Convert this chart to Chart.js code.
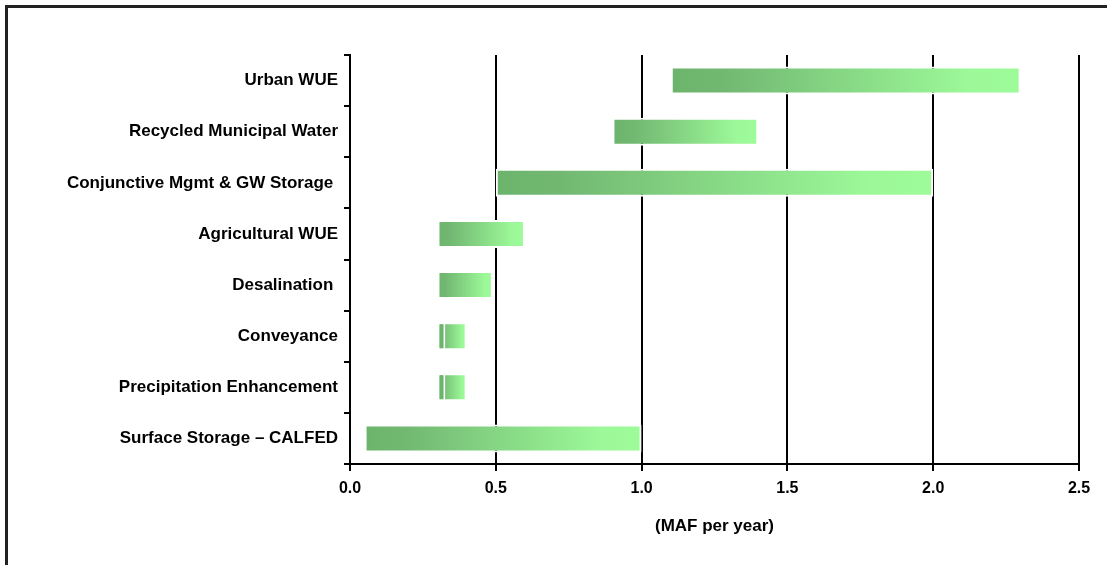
<!DOCTYPE html>
<html>
<head>
<meta charset="utf-8">
<script src="https://cdn.jsdelivr.net/npm/chart.js@4/dist/chart.umd.min.js"></script>
<style>
  body { margin: 0; background: #fff; }
  #wrap { position: relative; width: 1107px; height: 565px; }
  #frame { position: absolute; left: 5px; top: 5px; right: 0; bottom: 0;
           border-left: 3px solid #222; border-top: 3px solid #222; }
  canvas { position: absolute; left: 0; top: 0; }
</style>
</head>
<body>
<div id="wrap">
  <div id="frame"></div>
  <canvas id="chart" width="1107" height="565"></canvas>
</div>
<script>
// categories, top to bottom
const categories = ['Urban WUE', 'Recycled Municipal Water', 'Conjunctive Mgmt & GW Storage ',
  'Agricultural WUE', 'Desalination ', 'Conveyance', 'Precipitation Enhancement', 'Surface Storage \u2013 CALFED'];
// range of each option (MAF per year)
const lowValues  = [1.10, 0.90, 0.50, 0.30, 0.30, 0.30, 0.30, 0.05];
const highValues = [2.30, 1.40, 2.00, 0.60, 0.49, 0.40, 0.40, 1.00];
// small split piece shown at the left end of two bars
const splitValues = [null, null, null, null, null, 0.327, 0.327, null];
const xTicks = [0, 0.5, 1.0, 1.5, 2.0, 2.5];

const darkGreen = '#6cb46c';
const lightGreen = '#9dfc99';

function barGradient(c) {
  const chart = c.chart;
  if (!chart.chartArea || !Array.isArray(c.raw)) return lightGreen;
  const xs = chart.scales.x;
  const x0 = xs.getPixelForValue(c.raw[0]);
  const x1 = xs.getPixelForValue(c.raw[1]);
  const g = chart.ctx.createLinearGradient(x0, 0, x1, 0);
  g.addColorStop(0, darkGreen);
  g.addColorStop(0.15, '#72b872');
  g.addColorStop(0.85, '#9cf898');
  g.addColorStop(1, lightGreen);
  return g;
}

const rangeData = lowValues.map((v, i) => [v, highValues[i]]);
const splitData = splitValues.map((v, i) => v == null ? null : [lowValues[i], v]);

const labelFont = { family: '"Liberation Sans", Arial, sans-serif', size: 17, weight: 'bold' };
const tickFont = { family: '"Liberation Sans", Arial, sans-serif', size: 16, weight: 'bold' };

new Chart(document.getElementById('chart'), {
  type: 'bar',
  data: {
    labels: categories,
    datasets: [
      {
        data: splitData,
        backgroundColor: darkGreen,
        borderColor: '#ffffff',
        borderWidth: 2,
        borderSkipped: false,
        grouped: false,
        order: 0,
        barPercentage: 0.55,
        categoryPercentage: 1
      },
      {
        data: rangeData,
        backgroundColor: barGradient,
        borderColor: '#ffffff',
        borderWidth: 2,
        borderSkipped: false,
        grouped: false,
        order: 1,
        barPercentage: 0.55,
        categoryPercentage: 1
      }
    ]
  },
  options: {
    indexAxis: 'y',
    responsive: false,
    animation: false,
    layout: { padding: { top: 55, right: 28, bottom: 0, left: 0 } },
    plugins: { legend: { display: false }, tooltip: { enabled: false } },
    scales: {
      x: {
        min: 0,
        max: 2.5,
        afterBuildTicks: axis => { axis.ticks = xTicks.map(v => ({ value: v })); },
        afterFit: axis => { axis.height = 101; },
        grid: { color: '#000', lineWidth: 2, tickLength: 7, drawOnChartArea: true },
        border: { color: '#000', width: 2 },
        ticks: { color: '#000', font: tickFont, padding: 8, callback: v => v.toFixed(1) },
        title: { display: true, text: '(MAF per year)', color: '#000', font: labelFont,
                 padding: { top: 0, bottom: 28 } }
      },
      y: {
        afterFit: axis => { axis.width = 350; },
        grid: { offset: true, color: '#000', lineWidth: 2, tickLength: 6, drawOnChartArea: false },
        border: { color: '#000', width: 2 },
        ticks: { color: '#000', font: labelFont, padding: 6 }
      }
    }
  }
});
</script>
</body>
</html>
